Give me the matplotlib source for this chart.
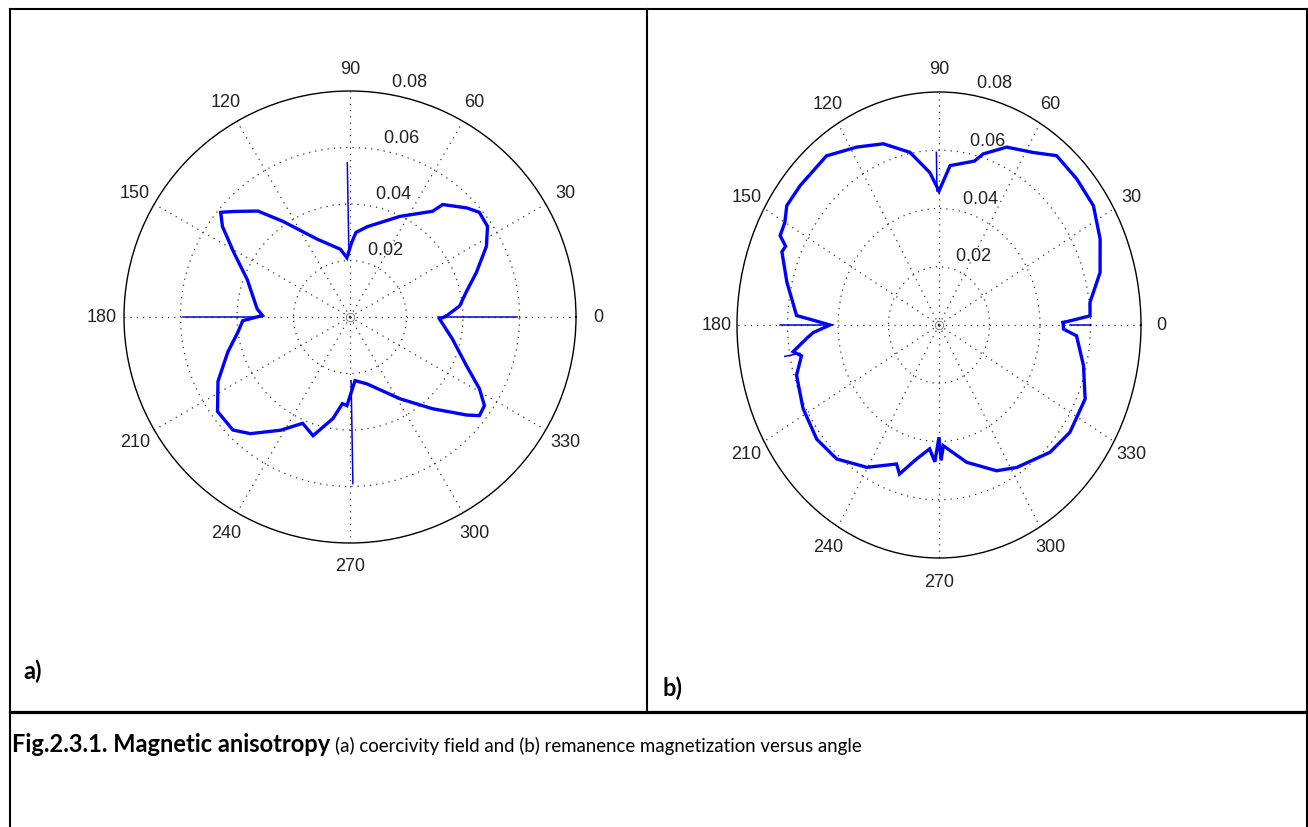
import numpy as np
import matplotlib
matplotlib.use("Agg")
import matplotlib.pyplot as plt
from matplotlib.lines import Line2D

# ---------------- data ----------------
# (a) coercivity field versus angle (deg, value)
theta_a = [0.5, 5.7, 12, 19.5, 27.4, 33.4, 39, 43, 50.5, 52, 63.7, 79, 86, 89,
           93, 98, 113, 125, 131, 137.8, 141, 144.6, 151, 160, 175, 179,
           182, 187.6, 196, 206, 215.5, 224, 229.5, 238.5, 246, 252.7, 260.5,
           265, 268, 274.5, 284.2, 301.4, 312, 320, 322.7, 326.6, 331, 337.3,
           348, 358.7, 360.5]
r_a = [0.034, 0.039, 0.042, 0.0475, 0.0544, 0.0583, 0.0589, 0.0566, 0.0516,
       0.0475, 0.0397, 0.0326, 0.030, 0.026,
       0.021, 0.0242, 0.030, 0.0413, 0.0497, 0.0556, 0.0589, 0.0554, 0.047,
       0.0387, 0.033, 0.031,
       0.038, 0.040, 0.045, 0.052, 0.0576, 0.0576, 0.0543, 0.047, 0.0412,
       0.044, 0.0364, 0.0308, 0.0314, 0.0226, 0.0244, 0.0339, 0.0437, 0.054,
       0.0576, 0.057, 0.0524, 0.0447, 0.037, 0.0317, 0.034]
# narrow spikes in (a): angle, lower end, upper end
spike_a_theta = [0.0, 91.0, 180.0, 271.0]
spike_a_low = [0.031, 0.022, 0.031, 0.0226]
spike_a_high = [0.059, 0.0546, 0.059, 0.059]

# (b) remanence magnetization versus angle (deg, value)
theta_b = [1, 3, 7.4, 15.8, 24.8, 33.8, 42.6, 51.3, 57.8, 66.3, 73.4, 76,
           85.4, 90, 94, 101, 109.5, 118, 127.5, 139, 145.8, 150, 154, 156,
           158, 166.3, 176.7, 177.8, 180, 183, 185, 189, 191, 197, 208, 219,
           228.6, 239.7, 250.6, 253, 259, 265, 268, 270, 271, 272.4, 283.1,
           294.5, 302.2, 315.2, 324.6, 336.3, 346.3, 356.1, 358.4, 361]
r_b = [0.0492, 0.0599, 0.0603, 0.0663, 0.0703, 0.0736, 0.0741, 0.0745, 0.070,
       0.0667, 0.0613, 0.058, 0.0549, 0.046, 0.0525, 0.0604, 0.066, 0.0692,
       0.0732, 0.0729, 0.0729, 0.0705, 0.070, 0.0665, 0.0671, 0.062, 0.0565,
       0.0511, 0.0432, 0.0499, 0.0526, 0.0585, 0.0555, 0.059, 0.061, 0.0623,
       0.0613, 0.0566, 0.0506, 0.0535, 0.0469, 0.0427, 0.0470, 0.0385,
       0.0465, 0.0415, 0.0484, 0.055, 0.0578, 0.062, 0.0636, 0.0632, 0.0589,
       0.0546, 0.0493, 0.0492]
spike_b_theta = [0.0, 91.0, 180.0, 190.0]
spike_b_low = [0.052, 0.046, 0.0432, 0.056]
spike_b_high = [0.060, 0.0593, 0.063, 0.062]

angle_ticks = list(range(0, 360, 30))
rho_ticks = [0.02, 0.04, 0.06, 0.08]
rmax = 0.08

# ---------------- figure ----------------
W, H = 1308, 828
fig = plt.figure(figsize=(W / 100, H / 100), dpi=100)
fig.patch.set_facecolor("white")


def px_rect(x0, y0, x1, y1):
    """Pixel box (top-left origin) -> figure fraction rect."""
    return [x0 / W, 1 - y1 / H, (x1 - x0) / W, (y1 - y0) / H]


def matlab_polar(rect, theta, r, sp_t, sp_lo, sp_hi, auto_aspect=False):
    ax = fig.add_axes(rect, projection="polar")
    if auto_aspect:
        ax.set_aspect("auto")
    ax.set_ylim(0, rmax)
    ax.set_xticks(np.deg2rad(angle_ticks))
    ax.set_yticks(rho_ticks[:-1])
    ax.set_xticklabels([])
    ax.set_yticklabels([])
    ax.tick_params(length=0)
    ax.grid(True, color="0.2", linestyle=(0, (1, 4)), linewidth=0.9)
    ax.spines["polar"].set_color("black")
    ax.spines["polar"].set_linewidth(1.0)
    ax.set_facecolor("white")

    ax.plot(np.deg2rad(theta), r, color=(0, 0, 1), linewidth=2.4,
            solid_joinstyle="miter", zorder=3)
    for t, lo, hi in zip(sp_t, sp_lo, sp_hi):
        ax.plot([np.deg2rad(t)] * 2, [lo, hi], color=(0, 0, 0.9),
                linewidth=1.1, zorder=3)
    ax.plot([0], [0], marker="o", markersize=6, markerfacecolor="none",
            markeredgecolor="0.45", markeredgewidth=0.6, zorder=2)

    lab = dict(fontsize=13, family=["Liberation Sans", "DejaVu Sans"],
               color="#222222")
    for a in angle_ticks:
        ax.text(np.deg2rad(a), 1.1 * rmax, str(a), ha="center", va="center",
                clip_on=False, **lab)
    for v in rho_ticks:
        ax.text(np.deg2rad(82), v + 0.001, "  " + f"{v:g}", ha="left",
                va="bottom", clip_on=False, **lab)
    return ax


matlab_polar(px_rect(124, 92, 576, 544), theta_a, r_a,
             spike_a_theta, spike_a_low, spike_a_high)
matlab_polar(px_rect(737, 93, 1141, 559), theta_b, r_b,
             spike_b_theta, spike_b_low, spike_b_high, auto_aspect=True)

# ---------------- table frame ----------------
def hline(y, x0, x1, lw):
    fig.add_artist(Line2D([x0 / W, x1 / W], [1 - y / H, 1 - y / H],
                          color="black", linewidth=lw,
                          solid_capstyle="projecting"))


def vline(x, y0, y1, lw):
    fig.add_artist(Line2D([x / W, x / W], [1 - y0 / H, 1 - y1 / H],
                          color="black", linewidth=lw,
                          solid_capstyle="projecting"))


y_rule = 713
hline(9.5, 10, 1306.5, 1.5)
vline(10, 9.5, H + 2, 1.5)
vline(1306.5, 9.5, H + 2, 1.5)
vline(647, 9.5, y_rule, 1.5)
hline(y_rule, 10, 1306.5, 2.3)

# ---------------- panel letters and caption ----------------
cap_font = ["Lato", "DejaVu Sans"]
fig.text(23 / W, 1 - 679 / H, "a)", fontsize=17, fontweight="bold",
         family=cap_font, ha="left", va="baseline")
fig.text(662 / W, 1 - 696 / H, "b)", fontsize=17, fontweight="bold",
         family=cap_font, ha="left", va="baseline")

fig.canvas.draw()
renderer = fig.canvas.get_renderer()
cap_y = 1 - 752 / H
t1 = fig.text(12 / W, cap_y, "Fig.2.3.1. Magnetic anisotropy", fontsize=14,
              fontweight="bold", family=cap_font, ha="left", va="baseline")
bb = t1.get_window_extent(renderer)
t1.set_fontsize(14 * 321 / bb.width)
bb = t1.get_window_extent(renderer)
t2 = fig.text((bb.x1 + 5) / W, cap_y,
              "(a) coercivity field and (b) remanence magnetization versus angle",
              fontsize=11, family=cap_font, ha="left", va="baseline")
bb2 = t2.get_window_extent(renderer)
t2.set_fontsize(11 * 524 / bb2.width)

fig.savefig("out.png", dpi=100, facecolor="white")
